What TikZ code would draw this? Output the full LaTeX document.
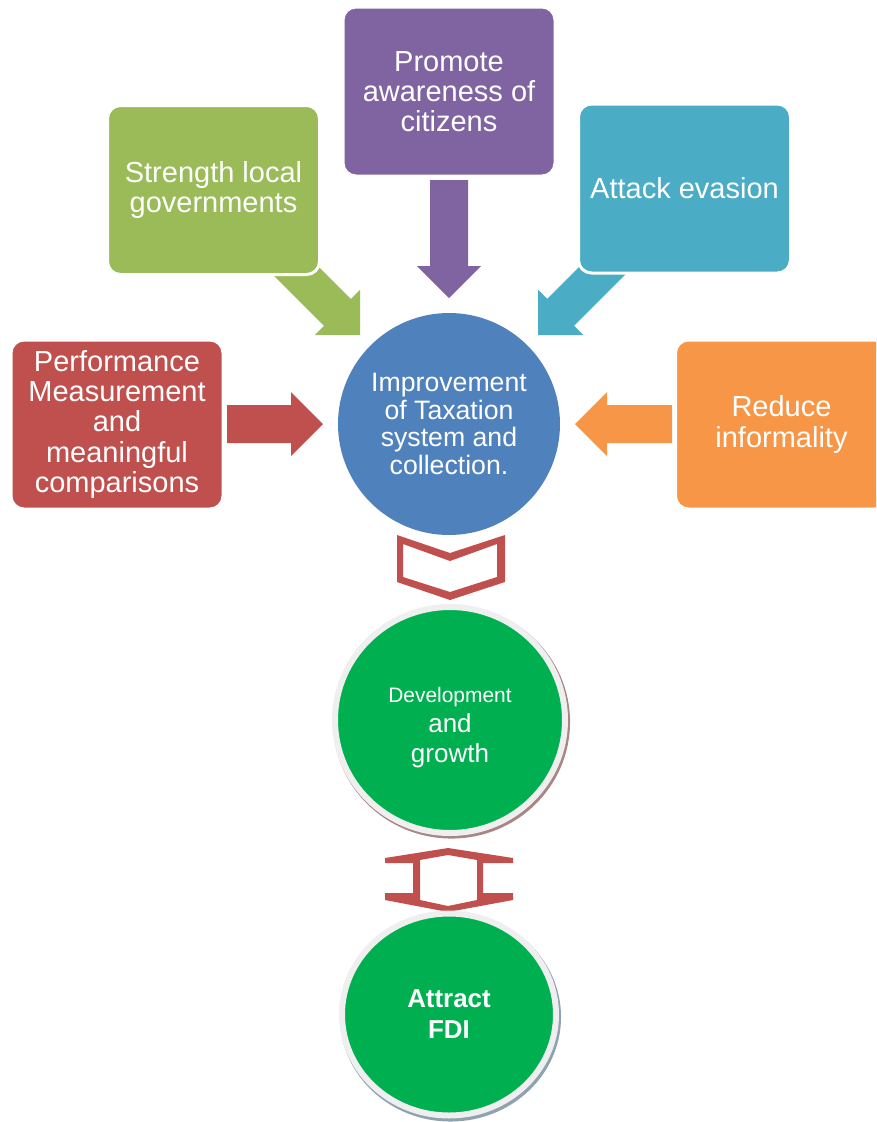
\documentclass[tikz,border=0pt]{standalone}
\usepackage{fontspec}
\setmainfont{Liberation Sans}
\usetikzlibrary{shapes.geometric}

\definecolor{cPurple}{HTML}{8064A2}
\definecolor{cOlive}{HTML}{9BBB59}
\definecolor{cTeal}{HTML}{4BACC6}
\definecolor{cRed}{HTML}{C0504D}
\definecolor{cOrange}{HTML}{F79646}
\definecolor{cBlue}{HTML}{4F81BD}
\definecolor{cGreen}{HTML}{00B050}
\definecolor{cRing}{HTML}{EFEFEF}
\definecolor{cShadowA}{HTML}{A98686}
\definecolor{cShadowB}{HTML}{8FA2B0}

% block arrow: colour, tip position, direction angle, total length (px)
\newcommand\blockarrow[4]{%
  \begin{scope}[shift={#2}, rotate=#3]
    \fill[#1] (0,0) -- (-32,-32) -- (-32,-19) -- (-#4,-19) -- (-#4,19)
      -- (-32,19) -- (-32,32) -- cycle;
  \end{scope}}

\begin{document}
\begin{tikzpicture}[x=0.75pt, y=-0.75pt,
  box/.style={rectangle, rounded corners=9.75pt, draw=white, line width=2.25pt,
    minimum width=159pt, minimum height=126.75pt, inner sep=0pt,
    text=white, align=center, font=\fontsize{21.75}{22.7}\selectfont},
  hub/.style={circle, fill=cBlue, minimum size=166.5pt, inner sep=0pt,
    text=white, align=center, font=\fontsize{20}{20.8}\selectfont},
  goal/.style={ellipse, fill=cGreen, draw=cRing, line width=4.5pt, inner sep=0pt,
    text=white, align=center},
  outline/.style={fill=cRed, even odd rule}]

\useasboundingbox (0,0) rectangle (876,1122);
\clip (0,0) rectangle (876,1122);

% arrows pointing into the hub
\blockarrow{cPurple}{(449,298)}{-90}{118}
\blockarrow{cOlive}{(360,335)}{-45}{130}
\blockarrow{cTeal}{(538,335)}{-135}{130}
\blockarrow{cRed}{(323,424)}{0}{96}
\blockarrow{cOrange}{(575,424)}{180}{97}

% source boxes
\node[box, fill=cPurple] (aware) at (449,91.5) {Promote\\awareness of\\citizens};
\node[box, fill=cOlive] (local) at (213.5,190) {Strength local\\governments};
\node[box, fill=cTeal] (evasion) at (684.5,188.5) {Attack evasion};
\node[box, fill=cRed] (perf) at (117,424.5) {Performance\\Measurement\\and\\meaningful\\comparisons};
\node[box, fill=cOrange] (informal) at (781.5,424.5) {Reduce\\informality};

% hub
\node[hub] (tax) at (449,424) {Improvement\\of Taxation\\system and\\collection.};

% chevron below the hub
\fill[outline] (397,535) -- (450,553) -- (505,535) -- (505,582) -- (450,600) -- (397,582) -- cycle
  (403,544) -- (450,561) -- (497,544) -- (497,577) -- (450,592) -- (403,577) -- cycle;

% development circle
\fill[cShadowA] (451.5,722) ellipse [x radius=88.9pt, y radius=87.4pt];
\node[goal, minimum width=172.5pt, minimum height=169.5pt,
  label={[yshift=-5.5pt, text=white, align=center,
    font=\fontsize{19.5}{22.5}\selectfont]center:{{\fontsize{15.7}{22.5}\selectfont Development}\\and\\growth}}]
  (dev) at (450,720) {};

% two-headed outline arrow
\fill[outline] (448,848) -- (513,858) -- (513,863) -- (483,863) -- (483,893) -- (513,893)
  -- (513,900) -- (448,912) -- (385,900) -- (385,893) -- (413,893) -- (413,863)
  -- (385,863) -- (385,858) -- cycle
  (448,855) -- (477,860) -- (477,900) -- (448,906) -- (420,900) -- (420,860) -- cycle;

% FDI circle
\fill[cShadowB] (450.5,1017) ellipse [x radius=82.9pt, y radius=78.4pt];
\node[goal, minimum width=160.5pt, minimum height=151.5pt,
  font=\bfseries\fontsize{19.4}{23.25}\selectfont] (fdi) at (449,1014.5) {Attract\\FDI};

\end{tikzpicture}
\end{document}
